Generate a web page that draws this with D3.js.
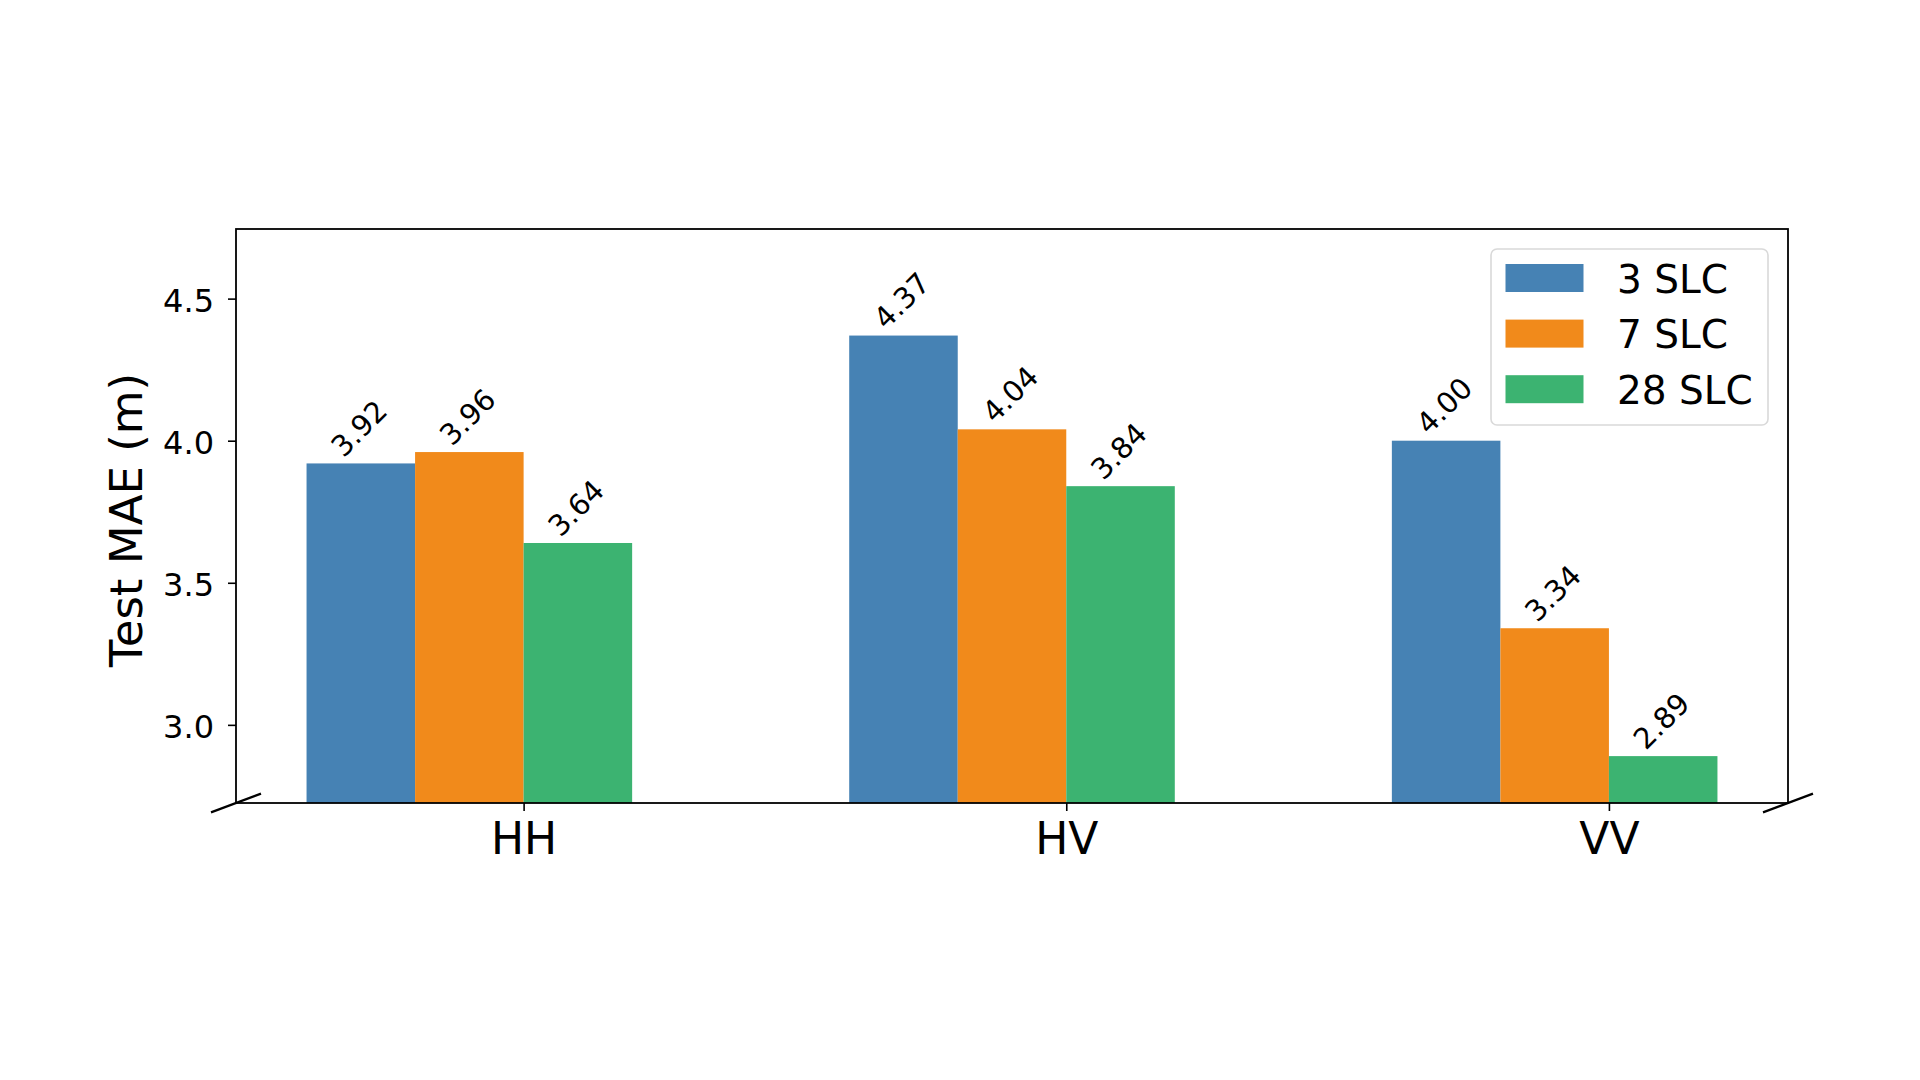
<!DOCTYPE html>
<html>
<head>
<meta charset="utf-8">
<script src="https://cdn.jsdelivr.net/npm/d3@7"></script>
<style>
  body { margin: 0; background: #fff; }
  text { font-family: "DejaVu Sans", sans-serif; fill: #000; }
</style>
</head>
<body>
<svg id="canvas"></svg>
<script>
const categories = ["HH", "HV", "VV"];
const seriesNames = ["3 SLC", "7 SLC", "28 SLC"];
const slc3 = [3.92, 4.37, 4.00];
const slc7 = [3.96, 4.04, 3.34];
const slc28 = [3.64, 3.84, 2.89];
const yTicks = [3.0, 3.5, 4.0, 4.5];
const colors = ["#4682b4", "#f18a1b", "#3cb371"];

function drawChart() {
    const width = 1920;
    const height = 1080;
    const plot = { left: 236, right: 1788, top: 229, bottom: 803 };

    const svg = d3.select("#canvas")
        .attr("width", width)
        .attr("height", height);

    const series = [slc3, slc7, slc28];
    const offsets = [-0.4, -0.2, 0];  // bar left edges relative to tick
    const barW = 0.2;

    const x = d3.scaleLinear()
        .domain([-0.53, 2.33])
        .range([plot.left, plot.right]);

    const y = d3.scaleLinear()
        .domain([2.725, 4.745])
        .range([plot.bottom, plot.top]);

    // bars
    series.forEach((vals, s) => {
        svg.append("g")
            .selectAll("rect")
            .data(vals)
            .enter()
            .append("rect")
            .attr("x", (d, i) => x(i + offsets[s]))
            .attr("y", d => y(d))
            .attr("width", (d, i) => x(i + offsets[s] + barW) - x(i + offsets[s]))
            .attr("height", d => plot.bottom - y(d))
            .attr("fill", colors[s]);
    });

    // value labels, rotated 45deg
    const fs = 29;
    series.forEach((vals, s) => {
        vals.forEach((v, i) => {
            const cx = x(i + offsets[s] + barW / 2);
            const t = svg.append("text")
                .style("font-size", fs + "px")
                .text(v.toFixed(2));
            const w = t.node().getComputedTextLength();
            const capH = fs * 0.73;
            const px = cx - (w - capH) * 0.3536 - 2;
            const py = y(v) - 5;
            t.attr("x", px).attr("y", py)
                .attr("transform", `rotate(-45,${px},${py})`);
        });
    });

    // y axis
    const yAxis = svg.append("g")
        .attr("transform", `translate(${plot.left},0)`)
        .call(d3.axisLeft(y).tickValues(yTicks).tickFormat(d3.format(".1f"))
            .tickSize(8).tickPadding(14));
    yAxis.select(".domain").remove();
    yAxis.selectAll("line").attr("stroke", "#000").attr("stroke-width", 1.6);
    yAxis.selectAll("text")
        .style("font-size", "32px")
        .attr("dy", "0.4em");

    // x axis
    const xAxis = svg.append("g")
        .attr("transform", `translate(0,${plot.bottom})`)
        .call(d3.axisBottom(x).tickValues([0, 1, 2]).tickFormat(i => categories[i])
            .tickSize(8).tickPadding(12));
    xAxis.select(".domain").remove();
    xAxis.selectAll("line").attr("stroke", "#000").attr("stroke-width", 1.6);
    xAxis.selectAll("text")
        .style("font-size", "44px")
        .attr("dy", "0.7em");

    // frame
    svg.append("rect")
        .attr("x", plot.left)
        .attr("y", plot.top)
        .attr("width", plot.right - plot.left)
        .attr("height", plot.bottom - plot.top)
        .attr("fill", "none")
        .attr("stroke", "#000")
        .attr("stroke-width", 1.8);

    // axis break marks at bottom corners
    [plot.left, plot.right].forEach(cx => {
        svg.append("line")
            .attr("x1", cx - 25).attr("y1", plot.bottom + 9.4)
            .attr("x2", cx + 25).attr("y2", plot.bottom - 9.4)
            .attr("stroke", "#000")
            .attr("stroke-width", 2.2);
    });

    // y label
    svg.append("text")
        .attr("transform", `translate(142,${(plot.top + plot.bottom) / 2 + 4}) rotate(-90)`)
        .attr("text-anchor", "middle")
        .style("font-size", "45px")
        .text("Test MAE (m)");

    // legend
    const legend = svg.append("g")
        .attr("transform", "translate(1491,249)");

    legend.append("rect")
        .attr("width", 277)
        .attr("height", 176)
        .attr("rx", 6)
        .attr("fill", "#fff")
        .attr("fill-opacity", 0.8)
        .attr("stroke", "#d9d9d9")
        .attr("stroke-width", 1.6);

    seriesNames.forEach((name, s) => {
        const cy = 29 + s * 55.6;
        legend.append("rect")
            .attr("x", 14.5)
            .attr("y", cy - 14)
            .attr("width", 78)
            .attr("height", 28)
            .attr("fill", colors[s]);
        legend.append("text")
            .attr("x", 126)
            .attr("y", cy + 14.5)
            .style("font-size", "39px")
            .text(name);
    });
}

drawChart();
</script>
</body>
</html>
